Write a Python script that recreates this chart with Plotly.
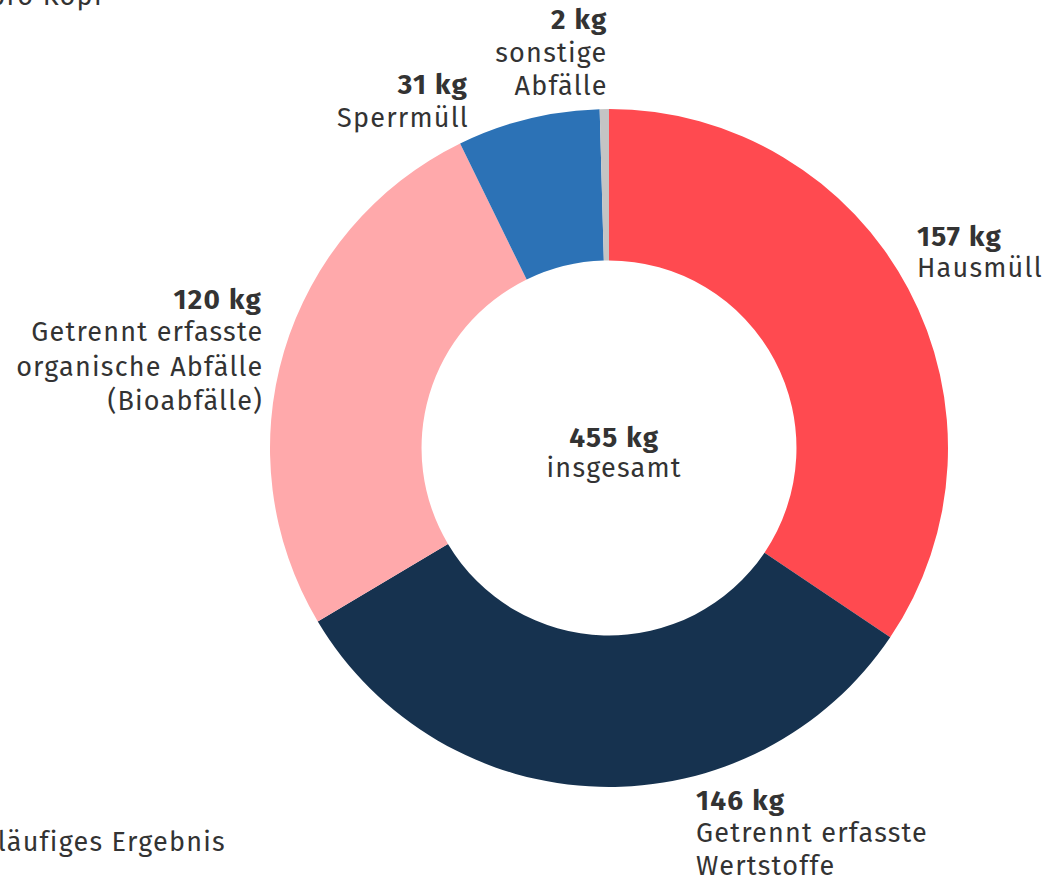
import plotly.graph_objects as go

categories = ["Hausmüll", "Getrennt erfasste Wertstoffe", "Getrennt erfasste organische Abfälle (Bioabfälle)", "Sperrmüll", "sonstige Abfälle"]
values = [157, 146, 120, 31, 2]
colors = ["#FF4A50", "#16324F", "#FFA9AB", "#2C72B6", "#C4C4C4"]
total_label = "455 kg"
total_text = "insgesamt"
note_top = "pro Kopf"
note_bottom = "Vorläufiges Ergebnis"

W, H = 1044, 880
FONT = "Fira Sans, Noto Sans, sans-serif"
TXT = "#333333"
FS = 27

def px(x):
    return x / W

def py(y):
    return 1 - y / H

cx, cy, r = 609, 448, 339

fig = go.Figure(go.Pie(
    labels=categories,
    values=values,
    marker=dict(colors=colors, line=dict(color="white", width=0)),
    hole=0.553,
    sort=False,
    direction="clockwise",
    rotation=0,
    textinfo="none",
    hoverinfo="label+value",
    domain=dict(x=[px(cx - r), px(cx + r)], y=[py(cy + r), py(cy - r)]),
    showlegend=False,
))

def block(lines, x, ys, anchor, bold_first=True):
    for i, (t, y) in enumerate(zip(lines, ys)):
        bold = bold_first and i == 0
        txt = f"<b>{t}</b>" if bold else t
        fig.add_annotation(text=txt, x=px(x), y=py(y), xref="paper", yref="paper",
                           xanchor=anchor, yanchor="middle", align=anchor, showarrow=False,
                           font=dict(family=FONT, size=FS + (1 if bold else 0), color=TXT))

block([f"{values[4]} kg", "sonstige", "Abfälle"], 610, [20, 53, 86], "right")
block([f"{values[3]} kg", "Sperrmüll"], 471, [84, 118], "right")
block([f"{values[0]} kg", "Hausmüll"], 915, [236, 268], "left")
block([f"{values[2]} kg", "Getrennt erfasste", "organische Abfälle", "(Bioabfälle)"], 265, [299, 332, 367, 401], "right")
block([f"{values[1]} kg", "Getrennt erfasste", "Wertstoffe"], 694, [800, 833, 866], "left")
block([total_label, total_text], 614, [437, 468], "center")
block([note_top], 108, [-4], "right", bold_first=False)
block([note_bottom], 228, [842], "right", bold_first=False)

fig.update_layout(
    width=W, height=H,
    margin=dict(l=0, r=0, t=0, b=0),
    paper_bgcolor="white",
    plot_bgcolor="white",
    font=dict(family=FONT, color=TXT),
)

post = """
document.body.style.margin = '0';
document.querySelectorAll('.annotation-text').forEach(function(e){ e.style.letterSpacing = '0.045em'; });
"""

fig.write_html("out.html", post_script=post, config=dict(displayModeBar=False))
